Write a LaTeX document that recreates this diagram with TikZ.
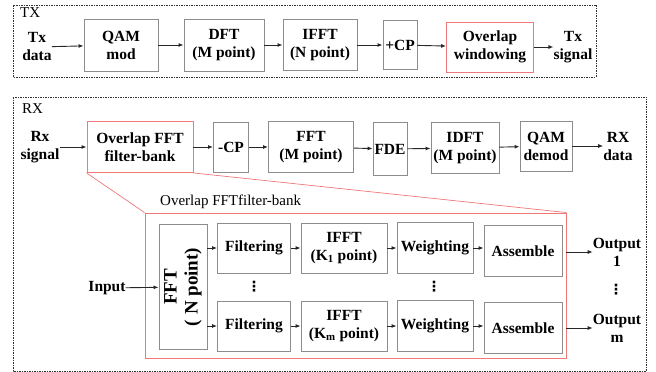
\documentclass[tikz,border=0pt]{standalone}
\usepackage{fontspec}
\setmainfont{Liberation Serif}[BoldFont={* Bold}]
\newfontfamily\dotfont{DejaVu Sans}
\usetikzlibrary{arrows.meta}

\definecolor{boxgray}{HTML}{8C8C8C}
\definecolor{zoomred}{HTML}{F07878}

\begin{document}
\begin{tikzpicture}[x=1pt, y=-1pt,
    blk/.style={draw=boxgray, line width=0.9pt, inner sep=1pt, align=center,
        font=\fontsize{15.5}{18}\selectfont\bfseries},
    redblk/.style={blk, draw=zoomred},
    lbl/.style={inner sep=0pt, align=center, font=\fontsize{15.5}{18}\selectfont\bfseries},
    dotlbl/.style={inner sep=0pt, font=\fontsize{14}{16}\selectfont\dotfont\bfseries},
    frame/.style={draw=black!80, line width=0.8pt, dash pattern=on 1.5pt off 1pt},
    arr/.style={-{Latex[length=5pt,width=4pt]}, line width=0.9pt, black!85}]
    \useasboundingbox (0,0) rectangle (656,372);

    % TX chain
    \draw[frame] (13,5) rectangle (596,77);
    \node[anchor=north west, inner sep=0pt, font=\fontsize{15}{18}\selectfont] (txlbl) at (20,7) {TX};
    \node[lbl] (txd) at (37,47) {Tx\\data};
    \node[blk, minimum width=74, minimum height=52] (qam) at (121,45) {QAM\\mod};
    \node[blk, minimum width=80, minimum height=52] (dft) at (224,45) {DFT\\(M point)};
    \node[blk, minimum width=74, minimum height=51] (ifft) at (320,45) {IFFT\\(N point)};
    \node[blk, minimum width=34, minimum height=49] (cp) at (400,45) {+CP};
    \node[redblk, minimum width=87, minimum height=50] (ow) at (490,47) {Overlap\\windowing};
    \node[lbl] (txs) at (573,47) {Tx\\signal};
    \draw[arr] (txd) -- (qam);
    \draw[arr] (qam) -- (dft);
    \draw[arr] (dft) -- (ifft);
    \draw[arr] (ifft) -- (cp);
    \draw[arr] (cp) -- (ow);
    \draw[arr] (ow) -- (txs);

    % RX chain
    \draw[frame] (13,97) rectangle (646,371);
    \node[anchor=north west, inner sep=0pt, font=\fontsize{15}{18}\selectfont] (rxlbl) at (22,103) {RX};
    \node[lbl] (rxs) at (40,147) {Rx\\signal};
    \node[redblk, minimum width=106, minimum height=51] (ofb) at (140,147) {Overlap FFT\\filter-bank};
    \node[blk, minimum width=35, minimum height=50] (mcp) at (231,147) {-CP};
    \node[blk, minimum width=85, minimum height=51] (fftm) at (311,147) {FFT\\(M point)};
    \node[blk, minimum width=34, minimum height=53] (fde) at (390,149) {FDE};
    \node[blk, minimum width=68, minimum height=51] (idft) at (465,148) {IDFT\\(M point)};
    \node[blk, minimum width=52, minimum height=50] (qamd) at (546,146) {QAM\\demod};
    \node[lbl] (rxd) at (618,146) {RX\\data};
    \draw[arr] (rxs) -- (ofb);
    \draw[arr] (ofb) -- (mcp);
    \draw[arr] (mcp) -- (fftm);
    \draw[arr] (fftm) -- (fde);
    \draw[arr] (fde) -- (idft);
    \draw[arr] (idft) -- (qamd);
    \draw[arr] (qamd) -- (rxd);

    % filter-bank detail
    \node[draw=zoomred, line width=0.9pt, minimum width=421, minimum height=145, inner sep=0pt] (bank) at (355.5,285.5) {};
    \node[anchor=south west, inner sep=0pt, font=\fontsize{15}{18}\selectfont] (banklbl) at (160,209) {Overlap FFTfilter-bank};
    \draw[draw=zoomred, line width=0.7pt] (ofb.south west) -- (bank.north west);
    \draw[draw=zoomred, line width=0.7pt] (ofb.south east) -- (bank.north east);

    \node[lbl] (inp) at (107,288) {Input};
    \node[blk, minimum width=48, minimum height=125, font=\fontsize{19}{21}\selectfont\bfseries] (fftn) at (183,287)
        {\rotatebox{90}{\begin{tabular}{@{}c@{}}FFT\\( N point)\end{tabular}}};
    \draw[arr] (inp) -- (fftn);

    \node[blk, minimum width=73, minimum height=50] (filt1) at (254,248) {Filtering};
    \node[blk, minimum width=73, minimum height=50] (filt2) at (254,326) {Filtering};
    \node[blk, minimum width=86, minimum height=50] (ifk1) at (344,248) {IFFT\\(K\textsubscript{1} point)};
    \node[blk, minimum width=86, minimum height=50] (ifk2) at (344,326) {IFFT\\(K\textsubscript{m} point)};
    \node[blk, minimum width=76, minimum height=51] (wt1) at (435,248) {Weighting};
    \node[blk, minimum width=76, minimum height=51] (wt2) at (435,326) {Weighting};
    \node[blk, minimum width=78, minimum height=51] (as1) at (523,251) {Assemble};
    \node[blk, minimum width=78, minimum height=51] (as2) at (523,328) {Assemble};
    \node[lbl] (out1) at (617,252) {Output\\1};
    \node[lbl] (out2) at (617,328) {Output\\m};

    \draw[arr] (fftn.east |- filt1) -- (filt1);
    \draw[arr] (fftn.east |- filt2) -- (filt2);
    \draw[arr] (filt1) -- (ifk1);
    \draw[arr] (filt2) -- (ifk2);
    \draw[arr] (ifk1) -- (wt1);
    \draw[arr] (ifk2) -- (wt2);
    \draw[arr] (wt1.east) -- (as1.west |- wt1.east);
    \draw[arr] (wt2.east) -- (as2.west |- wt2.east);
    \draw[arr] (bank.east |- out1) -- (out1);
    \draw[arr] (bank.east |- out2) -- (out2);

    \node[dotlbl] (dots1) at (254,287) {⋮};
    \node[dotlbl] (dots2) at (434,287) {⋮};
    \node[dotlbl] (dots3) at (616,290) {⋮};
\end{tikzpicture}
\end{document}
